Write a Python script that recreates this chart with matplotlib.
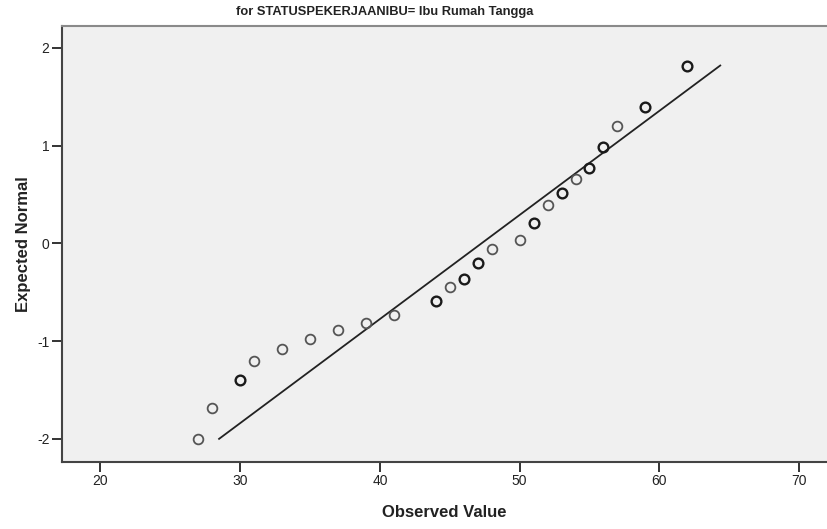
import matplotlib.pyplot as plt
import numpy as np

# normal Q-Q plot, values
observed = [27, 28, 30, 31, 33, 35, 37, 39, 41, 44, 45, 46, 47, 48,
            50, 51, 52, 53, 54, 55, 56, 57, 59, 62]
expected = [-2.00, -1.68, -1.40, -1.20, -1.08, -0.98, -0.89, -0.81, -0.73,
            -0.59, -0.45, -0.36, -0.20, -0.06, 0.03, 0.21, 0.39, 0.52,
            0.66, 0.77, 0.99, 1.20, 1.40, 1.82]
# points drawn darker in the original (tied values)
repeated = [30, 44, 46, 47, 51, 53, 55, 56, 59, 62]

line_mean = 47.27
line_sd = 9.39

title = "for STATUSPEKERJAANIBU= Ibu Rumah Tangga"
x_ticks = [20, 30, 40, 50, 60, 70]
y_ticks = [-2, -1, 0, 1, 2]


def main():
    plt.rcParams["font.family"] = ["Liberation Sans", "DejaVu Sans"]
    fig = plt.figure(figsize=(8.27, 5.29), dpi=100)
    ax = fig.add_axes([0.075, 0.127, 0.925, 0.824])
    ax.set_facecolor("#f0f0f0")

    obs = np.array(observed)
    exp = np.array(expected)
    dark = np.isin(obs, repeated)

    # reference line spans the range of expected values
    ly = np.array([exp.min(), exp.max()])
    lx = line_mean + ly * line_sd
    ax.plot(lx, ly, "-", color="#222222", lw=1.3, zorder=2)

    ax.plot(obs[~dark], exp[~dark], "o", ms=7, mfc="none", mec="#555555", mew=1.3, zorder=3)
    ax.plot(obs[dark], exp[dark], "o", ms=7, mfc="none", mec="#1a1a1a", mew=1.7, zorder=3)

    ax.set_xlim(17.25, 72.0)
    ax.set_ylim(-2.235, 2.225)
    ax.set_xticks(x_ticks)
    ax.set_yticks(y_ticks)
    ax.set_yticklabels([str(t) for t in y_ticks])
    ax.tick_params(direction="out", length=7, width=1.4, color="#333333",
                   labelsize=10, labelcolor="#222222", pad=2)

    ax.spines["right"].set_visible(False)
    ax.spines["top"].set_color("#8a8a8a")
    ax.spines["top"].set_linewidth(1.5)
    for s in ["left", "bottom"]:
        ax.spines[s].set_color("#444444")
        ax.spines[s].set_linewidth(1.5)

    ax.set_xlabel("Observed Value", fontsize=12, fontweight="bold", color="#222222", labelpad=12)
    ax.set_ylabel("Expected Normal", fontsize=12, fontweight="bold", color="#222222", labelpad=4)
    fig.text(0.465, 0.977, title, ha="center", va="center", fontsize=9.3,
             fontweight="bold", color="#222222",
             family=["Liberation Sans Narrow", "Liberation Sans", "DejaVu Sans"])

    fig.savefig("out.png", dpi=100)
    plt.close(fig)


if __name__ == "__main__":
    main()
